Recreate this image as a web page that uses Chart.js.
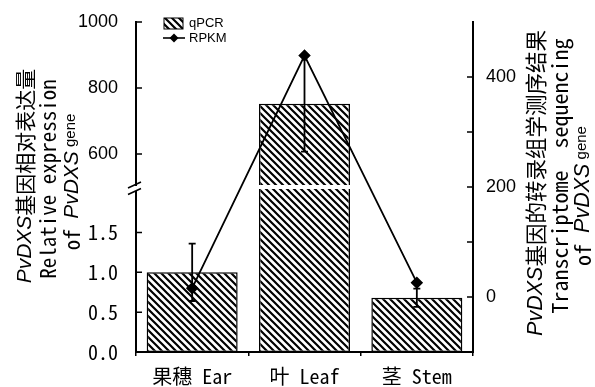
<!DOCTYPE html>
<html>
<head>
<meta charset="utf-8">
<script src="https://cdn.jsdelivr.net/npm/chart.js@4.4.1/dist/chart.umd.min.js"></script>
<style>
  body { margin: 0; background: #fff; }
  canvas { display: block; }
</style>
</head>
<body>
<canvas id="chart" width="595" height="387"></canvas>
<script>
// data
const categories = ["果穗 Ear", "叶 Leaf", "茎 Stem"];
const qpcr = [1.0, 752, 0.68];
const qpcrErr = [0.36, 145, 0.115];
const rpkm = [16, 439, 26];

const highTicks = [600, 800, 1000];
const lowTicks = [0, 0.5, 1.0, 1.5];
const rightTicks = [0, 100, 200, 300, 400];
const rightLabels = [0, 200, 400];

// broken left axis
const LOW_MAX = 2.07;
const HIGH_MIN = 500;

const MONO = "'Noto Sans Mono CJK SC', 'DejaVu Sans Mono', 'Noto Sans CJK SC'";
const ARIAL = "'Liberation Sans', Arial";
const CJK = "'Noto Sans CJK SC'";

const canvas = document.getElementById("chart");
const ctx = canvas.getContext("2d");

function hatch() {
  const s = 7;
  const c = document.createElement("canvas");
  c.width = s;
  c.height = s;
  const g = c.getContext("2d");
  g.fillStyle = "#fff";
  g.fillRect(0, 0, s, s);
  g.strokeStyle = "#000";
  g.lineWidth = 2.2;
  g.beginPath();
  g.moveTo(-1, -1); g.lineTo(s + 1, s + 1);
  g.moveTo(-1, s - 1); g.lineTo(1, s + 1);
  g.moveTo(s - 1, -1); g.lineTo(s + 1, 1);
  g.stroke();
  return ctx.createPattern(c, "repeat");
}
const pattern = hatch();

const lowPart = qpcr.map((v) => Math.min(v, LOW_MAX));
const highPart = qpcr.map((v) => (v > LOW_MAX ? [HIGH_MIN, v] : null));

function vtext(c, parts, cx, cy) {
  c.save();
  c.translate(cx, cy);
  c.rotate(-Math.PI / 2);
  c.textBaseline = "middle";
  c.textAlign = "left";
  let total = 0;
  parts.forEach((p) => {
    c.font = p.font;
    p.w = c.measureText(p.t).width;
    total += p.w;
  });
  let x = -total / 2;
  parts.forEach((p) => {
    c.font = p.font;
    c.fillText(p.t, x, p.dy || 0);
    x += p.w;
  });
  c.restore();
}

const decor = {
  id: "decor",
  afterDatasetsDraw(chart) {
    const c = chart.ctx;
    const x = chart.scales.x;
    const yH = chart.scales.yHigh;
    const yL = chart.scales.yLow;
    const b = yL.top;

    // white gap across the tall bar
    chart.getDatasetMeta(1).data.forEach((bar, i) => {
      if (qpcr[i] > LOW_MAX) {
        c.fillStyle = "#fff";
        c.fillRect(bar.x - bar.width / 2 - 2, b - 2, bar.width + 4, 4);
      }
    });

    // error bars of qPCR
    c.save();
    c.strokeStyle = "#000";
    c.lineWidth = 1.8;
    qpcr.forEach((v, i) => {
      const sc = v > LOW_MAX ? yH : yL;
      const px = x.getPixelForValue(i);
      const top = sc.getPixelForValue(v + qpcrErr[i]);
      const bot = sc.getPixelForValue(v - qpcrErr[i]);
      c.beginPath();
      c.moveTo(px, top); c.lineTo(px, bot);
      c.moveTo(px - 3.5, top); c.lineTo(px + 3.5, top);
      c.moveTo(px - 3.5, bot); c.lineTo(px + 3.5, bot);
      c.stroke();
    });
    c.restore();
  },
  afterDraw(chart) {
    const c = chart.ctx;
    const yH = chart.scales.yHigh;
    const yL = chart.scales.yLow;
    const yR = chart.scales.yR;
    const left = chart.chartArea.left;
    const right = chart.chartArea.right;

    c.save();
    c.strokeStyle = "#000";
    c.lineWidth = 1.5;
    // inward ticks
    c.beginPath();
    highTicks.forEach((v) => { const p = yH.getPixelForValue(v); c.moveTo(left, p); c.lineTo(left + 6, p); });
    lowTicks.forEach((v) => { const p = yL.getPixelForValue(v); c.moveTo(left, p); c.lineTo(left + 6, p); });
    rightTicks.forEach((v) => { const p = yR.getPixelForValue(v); c.moveTo(right, p); c.lineTo(right - 6, p); });
    c.stroke();

    // axis break marks
    const b = yL.top;
    c.fillStyle = "#fff";
    c.fillRect(left - 3, b - 1, 6, 5);
    c.lineWidth = 1.6;
    c.beginPath();
    c.moveTo(left - 8, b + 1); c.lineTo(left + 5, b - 5);
    c.moveTo(left - 8, b + 7.5); c.lineTo(left + 5, b + 1.5);
    c.stroke();

    // legend
    c.fillStyle = pattern;
    c.fillRect(164, 18, 19, 11);
    c.lineWidth = 1;
    c.strokeRect(164, 18, 19, 11);
    c.lineWidth = 1.6;
    c.beginPath();
    c.moveTo(163, 38); c.lineTo(185, 38);
    c.stroke();
    c.fillStyle = "#000";
    c.beginPath();
    c.moveTo(174, 33.5); c.lineTo(178.5, 38); c.lineTo(174, 42.5); c.lineTo(169.5, 38);
    c.closePath();
    c.fill();
    c.font = "13px " + ARIAL;
    c.textBaseline = "middle";
    c.textAlign = "left";
    c.fillText("qPCR", 189, 23);
    c.fillText("RPKM", 189, 38);

    // axis titles
    c.fillStyle = "#000";
    const ital = (s) => "italic " + s + "px " + ARIAL;
    vtext(c, [{ t: "PvDXS", font: ital(21) }, { t: "基因相对表达量", font: "21px " + CJK }], 25, 176);
    vtext(c, [{ t: "Relative expression", font: "21px " + MONO }], 48, 179);
    vtext(c, [
      { t: "of ", font: "21px " + MONO },
      { t: "PvDXS", font: ital(21) },
      { t: " gene", font: "15px " + ARIAL, dy: -1 },
    ], 72, 182);

    vtext(c, [{ t: "PvDXS", font: ital(21.5) }, { t: "基因的转录组学测序结果", font: "21.5px " + CJK }], 536, 183);
    vtext(c, [{ t: "Transcriptome  sequencing", font: "22px " + MONO }], 560, 176);
    vtext(c, [
      { t: "of ", font: "22px " + MONO },
      { t: "PvDXS", font: ital(21.5) },
      { t: " gene", font: "15px " + ARIAL, dy: -1 },
    ], 583, 196);
    c.restore();
  },
};

const chart = new Chart(ctx, {
  type: "bar",
  data: {
    labels: categories,
    datasets: [
      {
        label: "qPCR",
        data: lowPart,
        yAxisID: "yLow",
        backgroundColor: pattern,
        borderColor: "#000",
        borderWidth: 1.5,
        borderSkipped: false,
        grouped: false,
        categoryPercentage: 0.9,
        barPercentage: 0.9,
        order: 2,
      },
      {
        label: "qPCR",
        data: highPart,
        yAxisID: "yHigh",
        backgroundColor: pattern,
        borderColor: "#000",
        borderWidth: 1.5,
        borderSkipped: false,
        grouped: false,
        categoryPercentage: 0.9,
        barPercentage: 0.9,
        order: 2,
      },
      {
        type: "line",
        label: "RPKM",
        data: rpkm,
        yAxisID: "yR",
        borderColor: "#000",
        borderWidth: 1.8,
        pointStyle: "rectRot",
        pointRadius: 5,
        pointBackgroundColor: "#000",
        pointBorderColor: "#000",
        tension: 0,
        order: 1,
      },
    ],
  },
  options: {
    responsive: false,
    animation: false,
    layout: { padding: { top: 15, left: 0, right: 0, bottom: 0 } },
    plugins: {
      legend: { display: false },
      tooltip: { enabled: false },
    },
    scales: {
      x: {
        offset: true,
        grid: { display: true, drawOnChartArea: false, offset: true, tickLength: 4, color: "#000", lineWidth: 1.5 },
        border: { color: "#000", width: 2 },
        ticks: { color: "#000", font: { family: MONO, size: 20 }, padding: 8 },
        afterFit(s) { s.height = 35; },
      },
      yLow: {
        type: "linear",
        position: "left",
        stack: "left",
        stackWeight: 1,
        min: 0,
        max: LOW_MAX,
        grid: { display: false },
        border: { color: "#000", width: 2 },
        ticks: {
          color: "#000",
          font: { family: MONO, size: 20 },
          padding: 10,
          callback: (v) => Number(v).toFixed(1),
        },
        afterBuildTicks(s) { s.ticks = lowTicks.map((v) => ({ value: v })); },
        afterFit(s) { s.width = 136; },
      },
      yHigh: {
        type: "linear",
        position: "left",
        stack: "left",
        stackWeight: 1,
        min: HIGH_MIN,
        max: 1000,
        grid: { display: false },
        border: { color: "#000", width: 2 },
        ticks: {
          color: "#000",
          font: { family: ARIAL, size: 18 },
          padding: 10,
          callback: (v) => String(v),
        },
        afterBuildTicks(s) { s.ticks = highTicks.map((v) => ({ value: v })); },
        afterFit(s) { s.width = 136; },
      },
      yR: {
        type: "linear",
        position: "right",
        min: -100,
        max: 500,
        grid: { display: false },
        border: { color: "#000", width: 2 },
        ticks: {
          color: "#000",
          font: { family: ARIAL, size: 18 },
          padding: 5,
          callback: (v) => (rightLabels.includes(v) ? String(v) : ""),
        },
        afterBuildTicks(s) { s.ticks = rightTicks.map((v) => ({ value: v })); },
        afterFit(s) { s.width = 122; },
      },
    },
  },
  plugins: [decor],
});
</script>
</body>
</html>
